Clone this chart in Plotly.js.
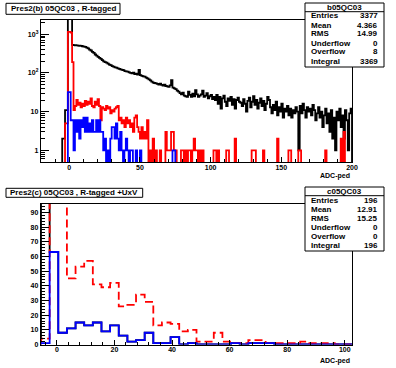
<!DOCTYPE html>
<html><head><meta charset="utf-8">
<script src="https://cdn.plot.ly/plotly-3.0.1.min.js"></script>
<style>html,body{margin:0;padding:0;background:#fff;}#chart{width:396px;height:368px;}</style>
</head><body><div id="chart"></div>
<script>
// ---------- top panel: ADC-ped, 1-unit bins starting at -20 ----------
const topStart = -20, topWidth = 1;
const blackTop = [
0,0,0,0,0,0,0,0,0,0,
0,0,0,0,0,2,2,11,11,2600,
3300,2800,530,525,520,515,510,505,500,490,
480,470,450,430,400,380,350,330,300,280,
260,245,230,215,200,190,185,175,165,160,
150,145,140,138,132,128,124,120,118,112,
110,108,104,100,98,102,94,96,90,120,
88,84,82,80,76,72,68,64,60,56,
55,54,52,50,53,49,47,50,46,45,
44,48,65,42,40,38,35,33,30,28,
31,26,25,24,33,27,24,29,25,36,
28,24,26,28,35,24,26,30,22,25,
27,21,24,20,27,16,24,12,22,26,
18,14,22,19,24,15,21,12,20,23,
18,17,14,21,16,10,19,23,13,18,
25,15,20,12,17,22,14,19,11,16,
24,20,13,9,15,11,18,8,13,10,
16,7,12,10,14,8,12,7,11,9,
13,10,1,14,9,16,11,7,13,10,
12,8,15,11,6,9,13,7,10,4,
8,12,5,9,3,11,2,7,1,10,
6,12,4,8,2,11,6,1,9,12];
const redTop = [
0,0,0,0,0,0,0,0,0,0,
0,0,0,0,0,0,0,5,5,1150,
1150,1100,190,11,14,20,15,17,13,16,
14,19,15,18,16,22,14,13,18,15,
21,14,6,13,12,11,14,12,13,9,
11,10,12,13,14,6,7,5,6,4,
7,5,6,4,5,3,7,8,4,3,
2,4,2,3,2,6,0,1,0,2,
0,1,0,0,1,0,0,0,3,1,
1,1,3,3,1,1,0,0,0,1,
1,0,1,0,1,1,0,1,2,1,
1,0,1,0,1,0,0,0,0,0,
0,0,1,1,0,1,0,0,0,0,
0,1,1,0,0,0,0,2,0,0,
0,0,0,0,0,0,0,0,0,1,
1,1,0,0,0,0,0,1,0,0,
0,0,0,0,0,0,0,2,0,0,
0,0,0,0,0,1,1,0,0,0,
0,0,1,1,0,0,0,0,0,0,
0,0,0,0,0,0,0,0,0,0,
0,1,0,0,0,0,0,0,0,0,
0,0,2,0,3,0,0,0,0,0];
const blueTop = [
0,0,0,0,0,0,0,0,0,0,
0,0,0,0,0,0,0,0,0,32,
32,6,6,1,6,3,6,2,6,4,
7,3,7,3,5,3,6,3,3,6,
3,6,3,3,1,2,0,1,0,2,
4,4,2,5,2,1,3,1,0,1,
2,1,0,1,1,0,0,1,0,0,
1,0,0,0,0,0,0,0,0,0,
0,0,0,0,0,0,0,0,0,0,
0,0,0,1,1,0,0,0,0,0,
0,0,0,0,0,0,0,0,0,0,
0,0,0,0,0,0,0,0,0,0,
0,0,0,0,0,0,0,0,0,0,
0,0,0,0,0,0,0,0,0,0,
0,0,0,0,0,0,0,0,0,0,
0,0,0,0,0,0,0,0,0,0,
0,0,0,0,0,0,0,0,0,0,
0,0,0,0,0,0,0,0,0,0,
0,0,0,0,0,0,0,0,0,0,
0,0,0,0,0,0,0,0,0,0,
0,0,0,0,0,0,0,0,0,0,
0,0,0,0,0,0,0,0,0,0];

// ---------- bottom panel: 3-unit bins starting at -5.5 ----------
const botStart = -5.5, botWidth = 3;
const blackBot = [120,63,8,11,15,13,15,9,13,6,2,3,8,1,1,5,0,1,0,0,0,0,1,0,1,1,1,0,0,0,0,0,0,0,0,0];
const redBot   = [4,140,120,45,53,57,41,39,42,26,27,34,29,13,15,14,9,10,2,2,8,2,1,1,3,3,1,1,1,1,2,1,1,1,0,0];
const blueBot  = [1,63,8,11,15,13,15,9,13,6,2,3,8,1,1,5,0,1,0,0,0,0,1,0,1,1,1,0,0,0,0,0,0,0,0,0];

// ---------- ticks & texts ----------
const topXTicks = [0,50,100,150,200];
const topYTicks = [1,10,100,1000];
const topYTickText = ['1','10','10<sup>2</sup>','10<sup>3</sup>'];
const botXTicks = [0,20,40,60,80,100];
const botYTicks = [0,10,20,30,40,50,60,70,80,90];
const statLabels = ['Entries','Mean','RMS','Underflow','Overflow','Integral'];
const statsTopVals = ['3377','4.366','14.99','0','8','3369'];
const statsBotVals = ['196','12.91','15.25','0','0','196'];
const titleTop = 'Pres2(b) 05QC03 , R-tagged';
const titleBot = 'Pres2(c) 05QC03 , R-tagged +UxV';
const nameTop = 'b05QC03', nameBot = 'c05QC03';
const xLabel = 'ADC-ped';

const W = 396, H = 368;
const px = v => v / W, py = v => 1 - v / H;
const FONT = 'Liberation Sans, Arial, Helvetica, sans-serif';

function step(start, width, vals, floor) {
  const x = [start], y = [floor];
  vals.forEach((v, i) => { x.push(start + i * width); y.push(v > 0 ? v : floor); });
  const end = start + vals.length * width;
  x.push(end); y.push(vals[vals.length - 1] > 0 ? vals[vals.length - 1] : floor);
  x.push(end); y.push(floor);
  return {x, y};
}
function hist(start, width, vals, floor, color, xa, ya, dash) {
  const s = step(start, width, vals, floor);
  return {x: s.x, y: s.y, xaxis: xa, yaxis: ya, type: 'scatter', mode: 'lines',
    line: {shape: 'hv', color: color, width: 1.8, dash: dash || 'solid'},
    hoverinfo: 'skip', showlegend: false};
}
const LOGFLOOR = 0.01;
const traces = [
  hist(topStart, topWidth, blackTop, LOGFLOOR, '#000000', 'x', 'y'),
  hist(topStart, topWidth, redTop, LOGFLOOR, '#ff0000', 'x', 'y'),
  hist(topStart, topWidth, blueTop, LOGFLOOR, '#0000ff', 'x', 'y'),
  hist(botStart, botWidth, blackBot, 0, '#000000', 'x2', 'y2'),
  hist(botStart, botWidth, redBot, 0, '#ff0000', 'x2', 'y2', '8px,4px'),
  hist(botStart, botWidth, blueBot, 0, '#0000ff', 'x2', 'y2')
];

const minorLog = [];
[0.1,1,10,100,1000].forEach(d => [2,3,4,5,6,7,8,9].forEach(m => minorLog.push(d*m)));

const tickFont = {family: FONT, size: 7, color: '#000', weight: 'bold'};
const axBase = {showline: true, linecolor: '#000', linewidth: 1.2, mirror: true,
  ticks: 'inside', tickcolor: '#000', tickwidth: 1, showgrid: false, zeroline: false,
  tickfont: tickFont, fixedrange: true};

const shapes = [], ann = [];
function box(x0, y0, x1, y1) {
  shapes.push({type: 'rect', xref: 'paper', yref: 'paper', x0: px(x0), x1: px(x1), y0: py(y1), y1: py(y0),
    line: {color: '#000', width: 1}, fillcolor: '#fff', layer: 'above'});
}
function text(t, x, y, xanchor, size) {
  ann.push({text: t, xref: 'paper', yref: 'paper', x: px(x), y: py(y), xanchor: xanchor, yanchor: 'middle',
    showarrow: false, font: {family: FONT, size: size || 8, color: '#000', weight: 'bold'}});
}
function stats(top, name, vals) {
  box(305, top, 384, top + 64);
  shapes.push({type: 'line', xref: 'paper', yref: 'paper', x0: px(305), x1: px(384), y0: py(top + 8.7), y1: py(top + 8.7),
    line: {color: '#000', width: 1}, layer: 'above'});
  text(name, 344.5, top + 4.3, 'center');
  const rowY = [13, 22, 31, 40, 49, 58.7];
  statLabels.forEach((l, i) => {
    text(l, 308.5, top + rowY[i], 'left');
    text(vals[i], 380, top + rowY[i], 'right');
  });
}
// titles
box(6, 3.3, 120, 14.3); text(titleTop, 63, 8.8, 'center');
box(6, 188.3, 142.7, 197.3); text(titleBot, 74.3, 192.8, 'center');
stats(3, nameTop, statsTopVals);
stats(187, nameBot, statsBotVals);
text(xLabel, 351.7, 176, 'right', 7);
text(xLabel, 351.7, 361, 'right', 7);

const layout = {
  width: W, height: H, margin: {l: 0, r: 0, t: 0, b: 0},
  paper_bgcolor: '#fff', plot_bgcolor: '#fff', showlegend: false,
  xaxis: Object.assign({}, axBase, {domain: [px(41), px(352)], anchor: 'y', range: [-20, 200],
    tickmode: 'array', tickvals: topXTicks, ticklen: 5, ticklabelstandoff: -2,
    minor: {ticks: 'inside', dtick: 10, tick0: 0, ticklen: 3, tickcolor: '#000'}}),
  yaxis: Object.assign({}, axBase, {domain: [py(162), py(20)], anchor: 'x', type: 'log',
    range: [Math.log10(0.5), 3.368], tickmode: 'array', tickvals: topYTicks, ticktext: topYTickText, ticklen: 8,
    minor: {ticks: 'inside', tickmode: 'array', tickvals: minorLog, ticklen: 4, tickcolor: '#000'}}),
  xaxis2: Object.assign({}, axBase, {domain: [px(41), px(352)], anchor: 'y2', range: [-5.5, 102.5],
    tickmode: 'array', tickvals: botXTicks, ticklen: 5, ticklabelstandoff: -2,
    minor: {ticks: 'inside', dtick: 4, tick0: 0, ticklen: 3, tickcolor: '#000'}}),
  yaxis2: Object.assign({}, axBase, {domain: [py(344.5), py(204)], anchor: 'x2', range: [0, 95.7],
    tickmode: 'array', tickvals: botYTicks, ticklen: 8,
    minor: {ticks: 'inside', dtick: 2, tick0: 0, ticklen: 4, tickcolor: '#000'}}),
  shapes: shapes, annotations: ann
};
Plotly.newPlot('chart', traces, layout, {displayModeBar: false, staticPlot: true});
</script></body></html>
